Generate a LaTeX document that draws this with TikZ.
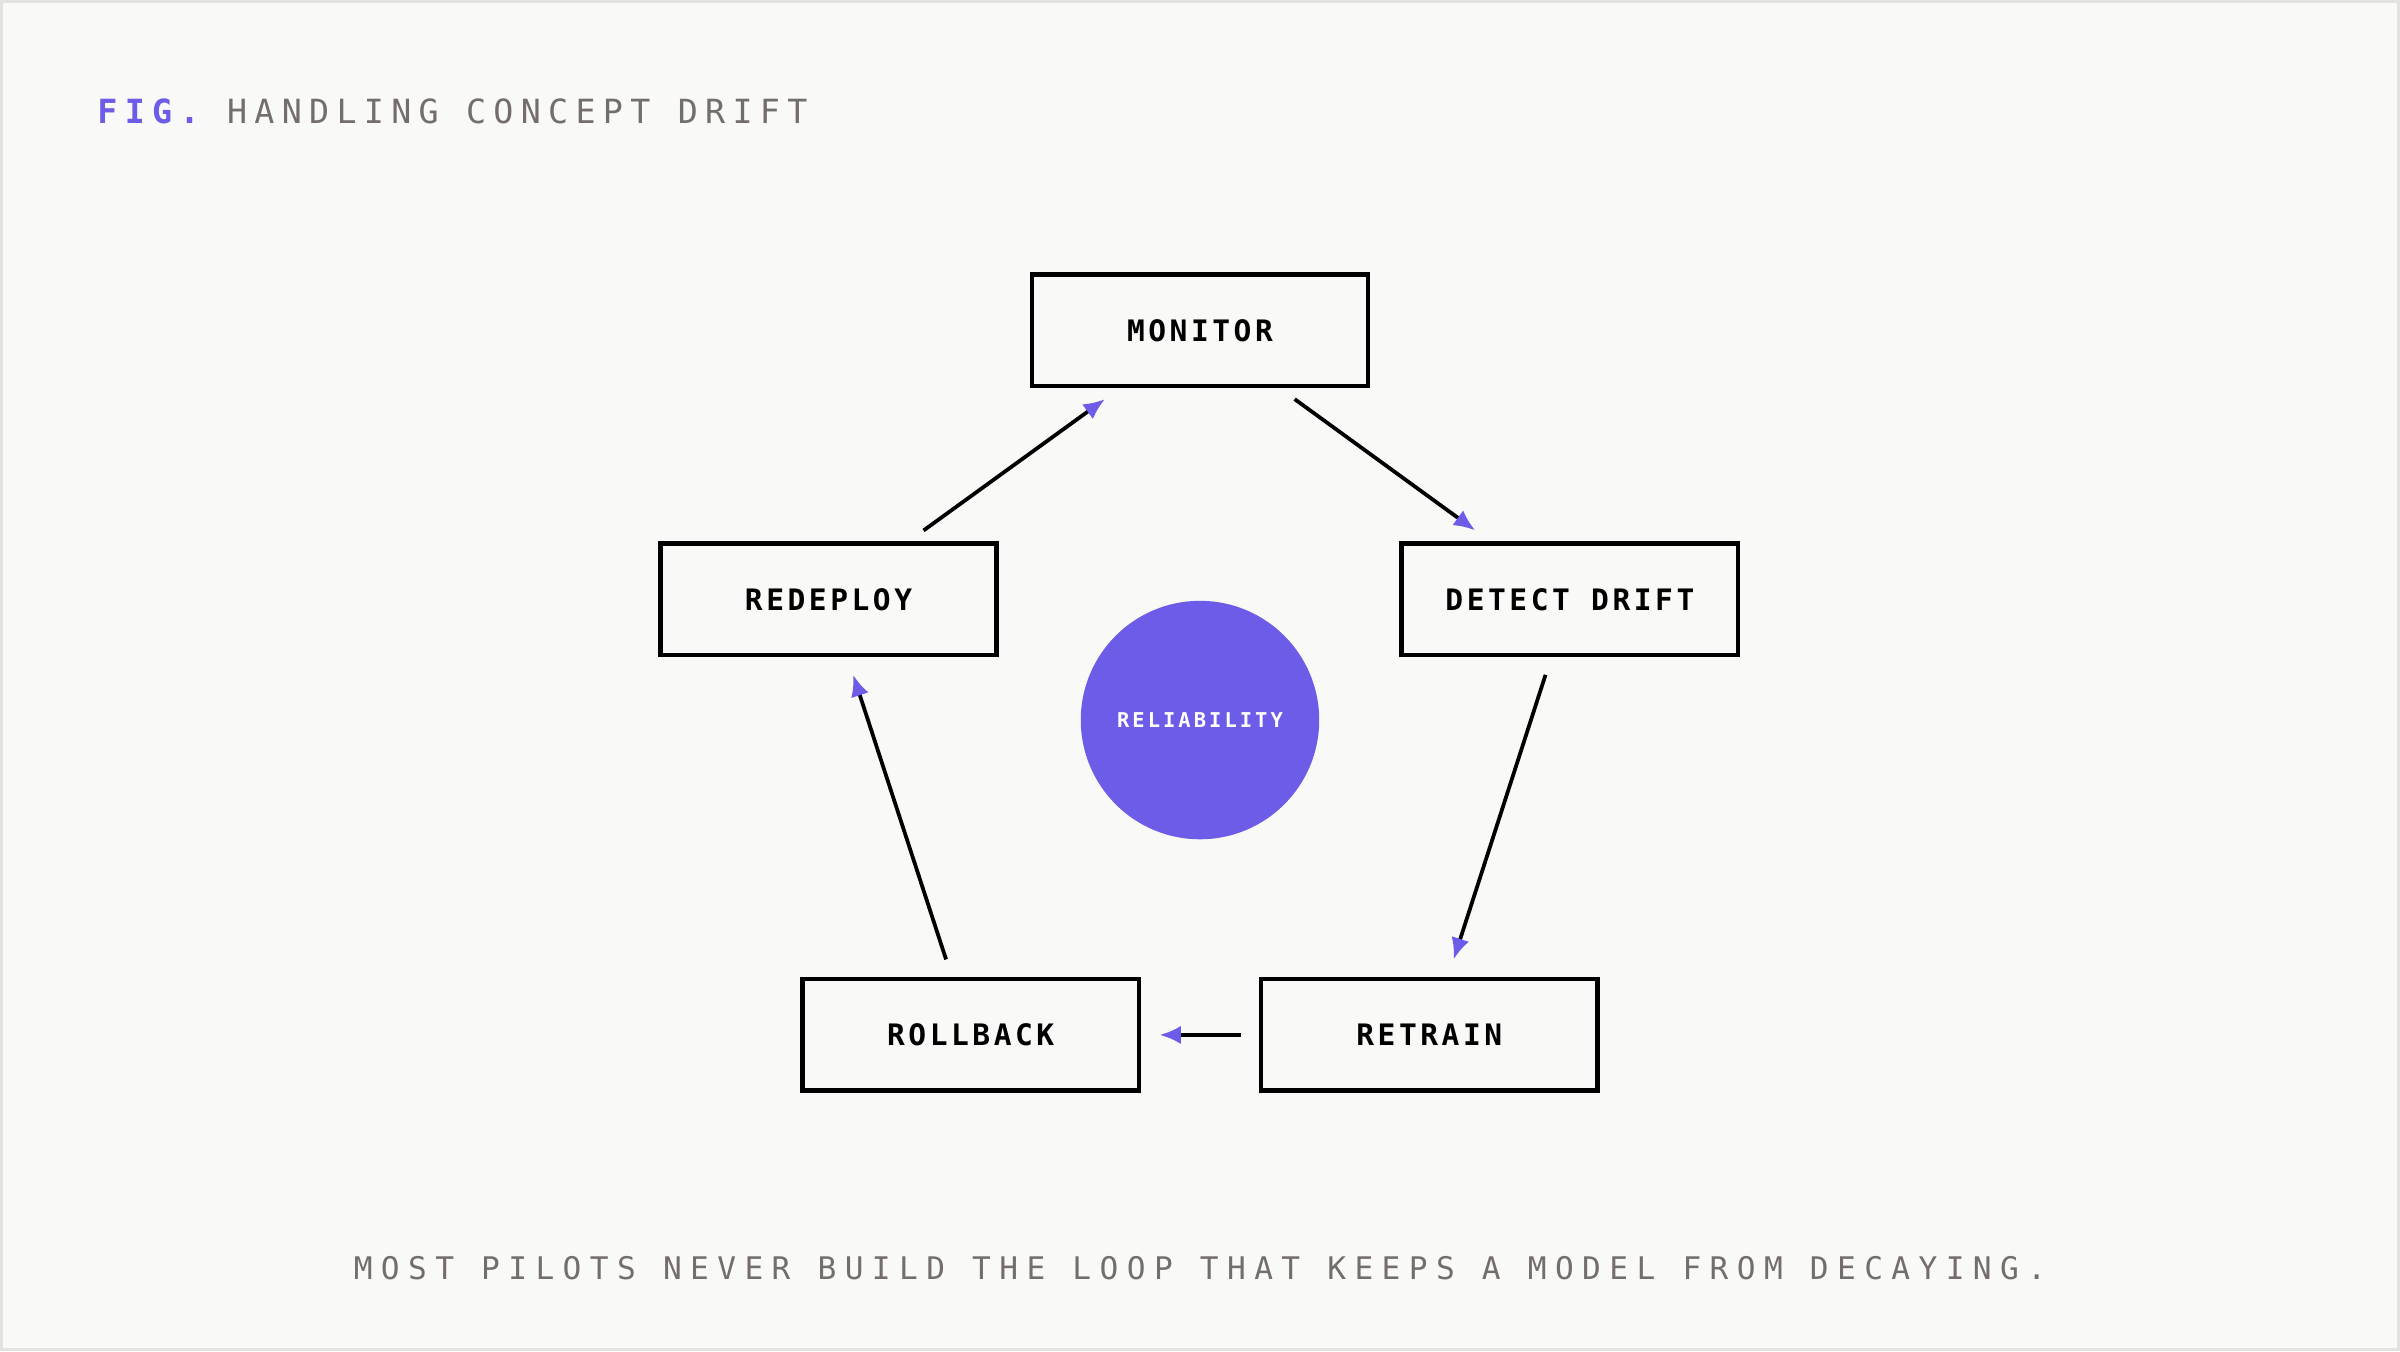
\documentclass[tikz,border=0pt]{standalone}
\usepackage{fontspec}
\setmonofont{DejaVu Sans Mono}
\usetikzlibrary{arrows.meta}
\definecolor{paper}{HTML}{F9F9F7}
\definecolor{frame}{HTML}{E2E2E0}
\definecolor{accent}{HTML}{6C5CE7}
\definecolor{muted}{HTML}{736D6B}
\begin{document}
\begin{tikzpicture}[x=0.1mm, y=-0.1mm,
  box/.style={draw=black, line width=0.85pt, minimum width=22mm, minimum height=7.3mm,
    font=\ttfamily\bfseries\fontsize{5.5}{6}\selectfont\addfontfeatures{LetterSpace=12}},
  flow/.style={draw=black, line width=0.7pt, -{Latex[length=1.4mm,width=1.2mm,fill=accent,color=accent]},
    shorten >=1.2mm, shorten <=1.2mm}]
\fill[paper, draw=frame, line width=0.6pt] (0,0) rectangle (1568,882);
\useasboundingbox (0,0) rectangle (1568,882);
% title and caption
\node [anchor=base west, inner sep=0, font=\ttfamily\fontsize{6.2}{7}\selectfont\addfontfeatures{LetterSpace=22}]
  (title) at (62,80) {\textcolor{accent}{\bfseries FIG.} \textcolor{muted}{HANDLING CONCEPT DRIFT}};
\node [anchor=base, inner sep=0, text=muted, font=\ttfamily\fontsize{5.8}{7}\selectfont\addfontfeatures{LetterSpace=27}]
  (caption) at (784,836) {MOST PILOTS NEVER BUILD THE LOOP THAT KEEPS A MODEL FROM DECAYING.};
% stages of the loop
\node [box] (monitor) at (784,215) {MONITOR};
\node [box] (detect) at (1026,391) {DETECT DRIFT};
\node [box] (retrain) at (934,676) {RETRAIN};
\node [box] (rollback) at (634,676) {ROLLBACK};
\node [box] (redeploy) at (541,391) {REDEPLOY};
\node [circle, fill=accent, minimum size=15.6mm, text=white,
  font=\ttfamily\bfseries\fontsize{3.8}{4}\selectfont\addfontfeatures{LetterSpace=15}]
  (core) at (784,470) {RELIABILITY};
% edges of the loop
\path [flow]
(monitor) edge (detect)
(detect) edge (retrain)
(retrain) edge (rollback)
(rollback) edge (redeploy)
(redeploy) edge (monitor)
;
\end{tikzpicture}
\end{document}
